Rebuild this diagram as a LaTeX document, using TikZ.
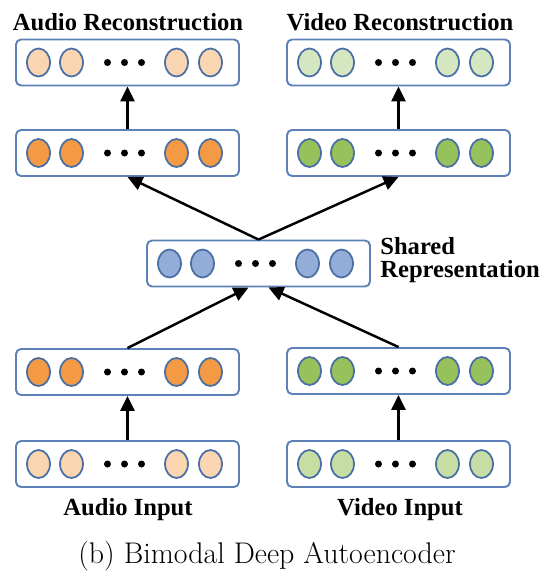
\documentclass[tikz,border=0pt]{standalone}
\usepackage{fontspec}
\newfontfamily\lblfont{Liberation Serif}
\usetikzlibrary{arrows.meta,shapes.geometric}
\definecolor{boxline}{HTML}{5E80B8}
\definecolor{unitline}{HTML}{4A6FA5}
\definecolor{peach}{HTML}{FAD5B2}
\definecolor{orange}{HTML}{F59A44}
\definecolor{palegreen}{HTML}{D5E7C0}
\definecolor{lightgreen}{HTML}{C6DDA3}
\definecolor{green}{HTML}{97C15A}
\definecolor{blue}{HTML}{93ADD8}
\tikzset{
  every picture/.style={line join=round, >=Stealth},
  layerbox/.style={draw=boxline, line width=1.1pt, rounded corners=0.1cm, fill=white,
    minimum width=4.46cm, minimum height=0.92cm, inner sep=0pt},
  unit/.style={ellipse, draw=unitline, line width=1pt, minimum width=0.46cm,
    minimum height=0.56cm, inner sep=0pt},
  dotunit/.style={circle, fill=black, minimum size=0.14cm, inner sep=0pt},
  link/.style={line width=1.4pt, -{Triangle[length=8.5pt,width=8pt]}},
  lbl/.style={font=\lblfont\bfseries\fontsize{14}{13}\selectfont},
}

\begin{document}
\begin{tikzpicture}[x=0.02cm,y=-0.02cm]
\useasboundingbox (0,0) rectangle (540,576);
% layers of units
\foreach \name/\x/\y/\col in {arec/127.5/62.5/peach, adec/127.5/153/orange,
    vrec/398.5/62.5/palegreen, vdec/398.5/153/green, shared/258.5/263.5/blue,
    aenc/127.5/372/orange, venc/398.5/371/green,
    ain/127.5/464/peach, vin/398.5/464/lightgreen}{
  \node[layerbox] (\name) at (\x,\y) {};
  \foreach \dx [count=\i] in {-89,-56,49,83}
    \node[unit,fill=\col] (\name-u\i) at (\x+\dx,\y) {};
  \foreach \dx [count=\i] in {-20,-3,14}
    \node[dotunit] (\name-d\i) at (\x+\dx,\y) {};
}
% connections
\draw[link] (adec) -- (arec);
\draw[link] (vdec) -- (vrec);
\draw[link] (shared.north) -- (adec.south);
\draw[link] (shared.north) -- (vdec.south);
\draw[link] (aenc.north) -- ([xshift=-0.2cm]shared.south);
\draw[link] (venc.north) -- ([xshift=0.2cm]shared.south);
\draw[link] (ain) -- (aenc);
\draw[link] (vin) -- (venc);
% labels
\node[lbl,anchor=base] (arec-t) at (128,30) {Audio Reconstruction};
\node[lbl,anchor=base] (vrec-t) at (400,30) {Video Reconstruction};
\node[lbl,anchor=base west,align=left,inner sep=0pt] (shared-t) at (380,277) {Shared\\Representation};
\node[lbl,anchor=base] (ain-t) at (128,515) {Audio Input};
\node[lbl,anchor=base] (vin-t) at (400,515) {Video Input};
\node[font=\rmfamily\fontsize{17}{20}\selectfont,anchor=base] (caption) at (267,563) {(b) Bimodal Deep Autoencoder};
\end{tikzpicture}
\end{document}
